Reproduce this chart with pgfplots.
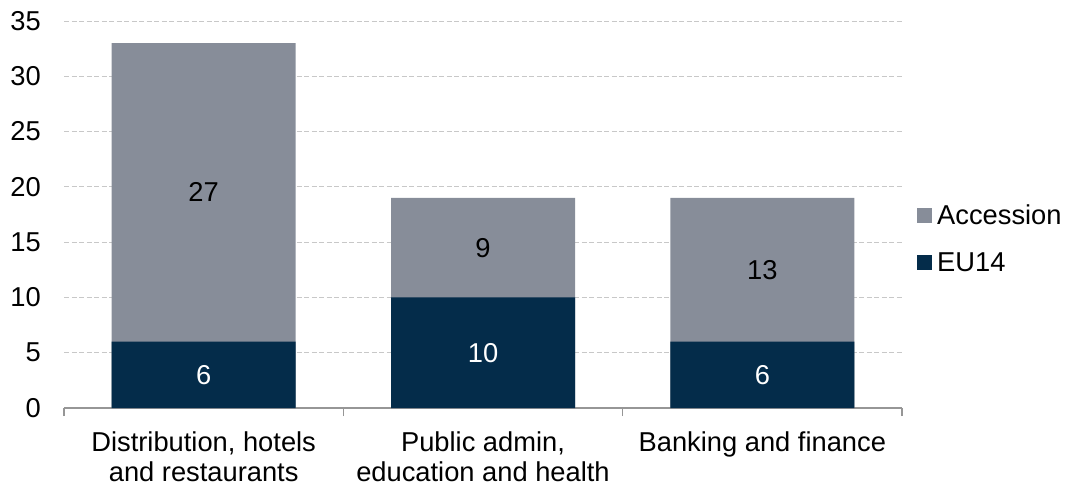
\documentclass[border=0pt]{standalone}
\usepackage{pgfplots}
\pgfplotsset{compat=1.18}
\usepackage{fontspec}
\setmainfont{Liberation Sans}
\definecolor{acc}{RGB}{135,141,153}
\definecolor{eu}{RGB}{4,44,74}
\definecolor{gridc}{RGB}{200,200,200}
\definecolor{axisc}{RGB}{150,150,150}
\begin{document}
\begin{tikzpicture}[font=\fontsize{27.4}{30}\selectfont]
\path[use as bounding box] (-64bp,-78bp) rectangle (1005bp,408bp);
\begin{axis}[
  at={(0,0)}, anchor=south west,
  scale only axis, width=838bp, height=387bp,
  ybar, bar width=184bp, bar shift=0pt,
  xmin=-0.5, xmax=2.5, ymin=0, ymax=35,
  ytick={0,5,...,35},
  xtick={0,1,2},
  xticklabels={{Distribution, hotels\\and restaurants},{Public admin,\\education and health},{Banking and finance}},
  minor xtick={-0.5,0.5,1.5,2.5},
  major tick length=0pt, minor tick length=8bp,
  tick align=outside,
  minor tick style={axisc, line width=1.2pt},
  axis x line*=bottom, axis y line*=left,
  y axis line style={draw=none},
  x axis line style={axisc, line width=1.5pt, -},
  ymajorgrids, grid style={gridc, line width=1pt, dash pattern=on 5bp off 2.5bp},
  /pgf/number format/assume math mode=true,
  yticklabel style={inner sep=0pt, xshift=-23bp, font=\fontsize{27.4}{30}\selectfont},
  xticklabel style={align=center, anchor=north, inner sep=0pt, yshift=-24bp, font=\fontsize{27.4}{30}\selectfont},
  legend style={at={(1,0.437)}, anchor=west, draw=none, fill=none, xshift=15bp, inner sep=0pt, row sep=22bp,
    font=\fontsize{27.4}{30}\selectfont, nodes={inner sep=2bp}},
  legend image code/.code={\fill[#1] (0bp,-7.5bp) rectangle (15bp,7.5bp);},
  legend cell align=left,
  /tikz/every odd column/.append style={column sep=3bp},
]
\addplot[fill=acc, draw=none] coordinates {(0,33) (1,19) (2,19)};
\addlegendentry{Accession}
\addplot[fill=eu, draw=none] coordinates {(0,6) (1,10) (2,6)};
\addlegendentry{EU14}
\addplot[draw=none, fill=none, forget plot, point meta=explicit symbolic, nodes near coords,
  every node near coord/.append style={anchor=center, text=black, font=\fontsize{27.4}{30}\selectfont}]
  coordinates {(0,19.5)[27] (1,14.5)[9] (2,12.5)[13]};
\addplot[draw=none, fill=none, forget plot, point meta=explicit symbolic, nodes near coords,
  every node near coord/.append style={anchor=center, text=white, font=\fontsize{27.4}{30}\selectfont}]
  coordinates {(0,3)[6] (1,5)[10] (2,3)[6]};
\end{axis}
\end{tikzpicture}
\end{document}
